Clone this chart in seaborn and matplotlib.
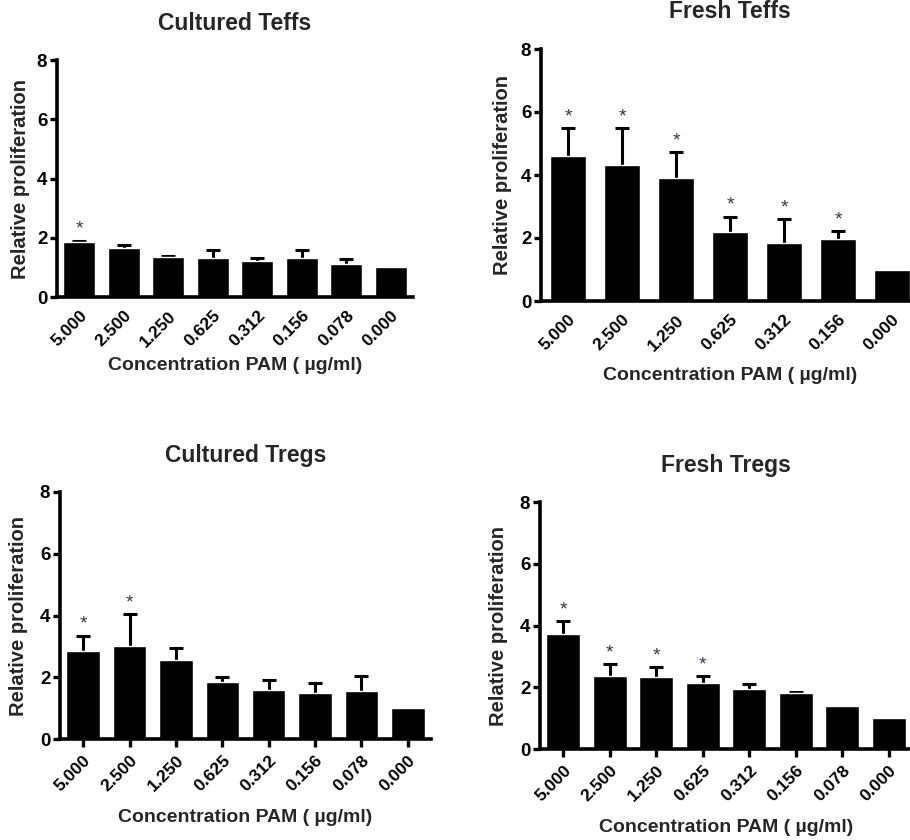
import matplotlib
matplotlib.use("Agg")
import matplotlib.pyplot as plt
import seaborn as sns
import numpy as np
import pandas as pd

# ---- data -------------------------------------------------------------
conc_all = ["5.000", "2.500", "1.250", "0.625", "0.312", "0.156", "0.078", "0.000"]
conc_fresh_teffs = ["5.000", "2.500", "1.250", "0.625", "0.312", "0.156", "0.000"]

cultured_teffs_mean = [1.85, 1.65, 1.35, 1.30, 1.20, 1.33, 1.10, 1.00]
cultured_teffs_sem = [0.05, 0.10, 0.05, 0.28, 0.12, 0.25, 0.18, 0.00]
cultured_teffs_sig = [True, False, False, False, False, False, False, False]

fresh_teffs_mean = [4.60, 4.32, 3.92, 2.20, 1.85, 1.98, 1.00]
fresh_teffs_sem = [0.90, 1.18, 0.80, 0.48, 0.75, 0.24, 0.00]
fresh_teffs_sig = [True, True, True, True, True, True, False]

cultured_tregs_mean = [2.85, 3.00, 2.55, 1.83, 1.60, 1.48, 1.57, 1.00]
cultured_tregs_sem = [0.50, 1.05, 0.40, 0.17, 0.30, 0.33, 0.48, 0.00]
cultured_tregs_sig = [True, True, False, False, False, False, False, False]

fresh_tregs_mean = [3.72, 2.37, 2.33, 2.15, 1.93, 1.80, 1.40, 1.00]
fresh_tregs_sem = [0.41, 0.38, 0.33, 0.21, 0.16, 0.03, 0.00, 0.00]
fresh_tregs_sig = [True, True, True, True, False, False, False, False]

y_ticks = [0, 2, 4, 6, 8]
x_label = "Concentration PAM ( µg/ml)"
y_label = "Relative proliferation"

# ---- style ------------------------------------------------------------
sns.set_theme(style="ticks")
plt.rcParams["font.family"] = ["Liberation Sans", "DejaVu Sans"]
plt.rcParams["font.weight"] = "bold"

W, H = 910, 840
fig = plt.figure(figsize=(W / 100, H / 100), dpi=100)
fig.patch.set_facecolor("white")


def panel(box, title, cats, mean, sem, sig, bar_w, show_xticks,
          title_dy, xlab_dy, ylab_dx, xtick_pad):
    left, right, top, bottom = box
    wpx, hpx = right - left, bottom - top
    ax = fig.add_axes([left / W, 1 - bottom / H, wpx / W, hpx / H])
    df = pd.DataFrame({"conc": cats, "value": mean, "sem": sem})
    sns.barplot(data=df, x="conc", y="value", order=cats, color="black",
                saturation=1, width=bar_w, errorbar=None, ax=ax, zorder=2)
    xs = np.arange(len(cats))
    # one-sided (upper) SEM bars, drawn beneath the bars
    has_err = df["sem"].to_numpy() > 0
    e_x = xs[has_err]
    e_m = df["value"].to_numpy()[has_err]
    e_s = df["sem"].to_numpy()[has_err]
    _, caps, _ = ax.errorbar(e_x, e_m, yerr=[np.zeros(len(e_s)), e_s],
                             fmt="none", ecolor="black", elinewidth=2.2,
                             capsize=4.7, capthick=2.2, zorder=1)
    if len(caps) == 2:
        caps[0].set_visible(False)
    for x, m, s, flag in zip(xs, mean, sem, sig):
        if flag:
            ax.annotate("*", xy=(x, m + s), xytext=(0, 2),
                        textcoords="offset points", ha="center", va="bottom",
                        fontsize=14, fontweight="normal", color="#3b3445")
    ax.set_xlim(-0.5, len(cats) - 0.5)
    ax.set_ylim(0, 8)
    ax.set_yticks(y_ticks)
    ax.set_yticklabels([str(t) for t in y_ticks], fontsize=13.5,
                       fontweight="bold")
    ax.set_xticks(xs)
    ax.set_xticklabels(cats, rotation=45, ha="right", va="top",
                       rotation_mode="anchor", fontsize=12.5,
                       fontweight="bold")
    sns.despine(ax=ax)
    for s in ("left", "bottom"):
        ax.spines[s].set_linewidth(2.6)
        ax.spines[s].set_color("black")
    ax.tick_params(axis="y", direction="out", length=5, width=2.4, pad=2,
                   colors="black")
    ax.tick_params(axis="x", direction="out", length=6 if show_xticks else 0,
                   width=2.4, pad=xtick_pad, colors="black")
    ax.set_facecolor("white")
    ax.set_title(title, y=1 + title_dy / hpx, pad=0, va="baseline",
                 fontsize=16.5, fontweight="bold")
    ax.set_xlabel(x_label, fontsize=14, fontweight="bold")
    ax.xaxis.set_label_coords(0.5, -xlab_dy / hpx)
    ax.xaxis.label.set_va("center")
    ax.set_ylabel(y_label, fontsize=14.5, fontweight="bold")
    ax.yaxis.set_label_coords(-ylab_dx / wpx, 0.5)
    ax.yaxis.label.set_va("center")
    return ax


panel((57, 413, 60, 297), "Cultured Teffs", conc_all,
      cultured_teffs_mean, cultured_teffs_sem, cultured_teffs_sig,
      0.72, False, 30, 68, 36, 8)
panel((541, 919, 49, 301), "Fresh Teffs", conc_fresh_teffs,
      fresh_teffs_mean, fresh_teffs_sem, fresh_teffs_sig,
      0.68, False, 31, 74, 39, 8)
panel((60, 431, 492, 739), "Cultured Tregs", conc_all,
      cultured_tregs_mean, cultured_tregs_sem, cultured_tregs_sig,
      0.72, True, 30, 78, 41, 4)
panel((540, 912, 502, 749), "Fresh Tregs", conc_all,
      fresh_tregs_mean, fresh_tregs_sem, fresh_tregs_sig,
      0.73, True, 30, 78, 41, 4)

fig.savefig("out.png", dpi=100, facecolor="white")
